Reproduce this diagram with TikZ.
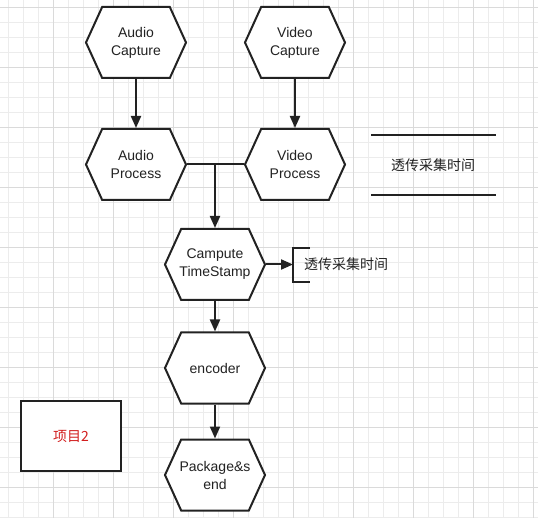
\documentclass[tikz,border=0pt]{standalone}
\usepackage{fontspec}
\setmainfont{Liberation Sans}
\newfontfamily\cjk{Noto Sans CJK SC}
\usepackage{tikz}
\usetikzlibrary{shapes.symbols,arrows.meta}

\definecolor{linec}{RGB}{34,34,34}
\definecolor{gridminor}{RGB}{236,236,236}
\definecolor{gridmajor}{RGB}{218,218,218}
\definecolor{notered}{RGB}{210,30,30}

\tikzset{
  hexbox/.style={draw=linec, line width=2pt, fill=white, shape=signal,
    signal to=west and east, signal pointer angle=131,
    minimum width=100pt, minimum height=71pt, inner sep=0pt, inner xsep=-3pt,
    align=center, text=linec, font=\fontsize{14}{18}\selectfont},
  arr/.style={draw=linec, line width=2pt, -{Triangle[length=12pt,width=10pt]}},
  wire/.style={draw=linec, line width=2pt},
  note/.style={text=linec, font=\cjk\fontsize{14}{18}\selectfont, inner sep=0pt},
}

\begin{document}
\begin{tikzpicture}[x=1pt,y=-1pt]
            \useasboundingbox (0,0) rectangle (538,518);
            % grid
            \fill [white] (0,0) rectangle (538,518);
            \foreach \gx in {8,23,...,538} \draw [gridminor,line width=0.6pt] (\gx,0) -- (\gx,518);
            \foreach \gy in {7,22,...,518} \draw [gridminor,line width=0.6pt] (0,\gy) -- (538,\gy);
            \foreach \gx in {53,113,...,538} \draw [gridmajor,line width=0.8pt] (\gx,0) -- (\gx,518);
            \foreach \gy in {7,67,...,518} \draw [gridmajor,line width=0.8pt] (0,\gy) -- (538,\gy);
            % steps
            \node [hexbox] (acap) at (136,42.5) {Audio\\Capture};
            \node [hexbox] (vcap) at (295,42.5) {Video\\Capture};
            \node [hexbox] (aproc) at (136,164.5) {Audio\\Process};
            \node [hexbox] (vproc) at (295,164.5) {Video\\Process};
            \node [hexbox] (stamp) at (215,264.5) {Campute\\TimeStamp};
            \node [hexbox] (enc) at (215,368) {encoder};
            \node [hexbox] (pack) at (215,475) {Package\&s\\end};
            % connectors
            \draw [arr] (acap.south) -- (aproc.north);
            \draw [arr] (vcap.south) -- (vproc.north);
            \draw [wire] (aproc.east) -- (vproc.west);
            \draw [arr] (aproc.east -| stamp.north) -- (stamp.north);
            \draw [arr] (stamp.south) -- (enc.north);
            \draw [arr] (enc.south) -- (pack.north);
            % annotations
            \coordinate (brk) at (293,264.5);
            \draw [arr] (stamp.east) -- (brk);
            \draw [wire] ([xshift=17pt]brk |- 0,248) -- (brk |- 0,248) -- (brk |- 0,282) -- ([xshift=17pt]brk |- 0,282);
            \node [note, anchor=west] (note2) at (304,264.5) {透传采集时间};
            \node [note] (note1) at (433,165) {透传采集时间};
            \draw [wire] (371,135) -- (496,135);
            \draw [wire] (371,195) -- (496,195);
            \node [draw=linec, line width=2pt, fill=white, minimum width=100pt, minimum height=70pt,
                   text=notered, font=\cjk\fontsize{14}{18}\selectfont] (item) at (71,436) {项目2};
\end{tikzpicture}
\end{document}
